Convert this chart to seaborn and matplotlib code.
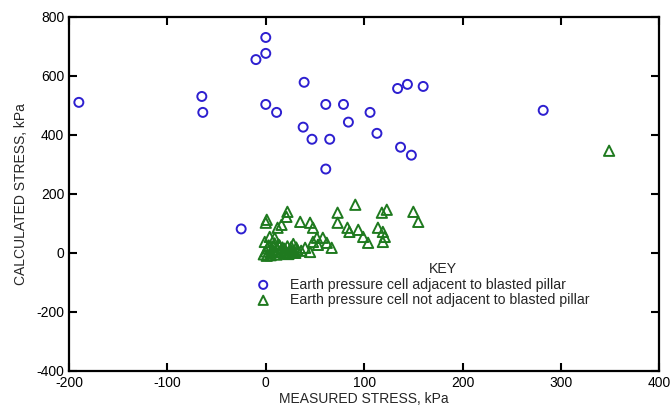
import numpy as np
import pandas as pd
import matplotlib
matplotlib.use("Agg")
import matplotlib.pyplot as plt
import seaborn as sns

# Earth pressure cell adjacent to blasted pillar (circles)
adj_measured = [-190, -65, -64, 0, 0, -10, 0, 11, 39, 38, 47, 61, 79, 65, 61,
                84, 106, 113, 134, 144, 160, 137, 148, 282, -25]
adj_calculated = [510, 530, 476, 730, 676, 655, 503, 476, 578, 426, 385, 503, 503,
                  385, 284, 443, 476, 405, 557, 571, 564, 358, 331, 483, 81]

# Earth pressure cell not adjacent to blasted pillar (triangles)
non_measured = [91, 1, 0, 22, 21, 35, 45, 48, 12, 16, 4, -1, 9, 40, 45, 52, 53, 48,
                73, 73, 83, 85, 94, 99, 104, 118, 123, 114, 119, 119, 58, 62, 67,
                150, 155, 121, 349,
                0, 2, 3, 5, 7, 8, 10, 12, 13, 15, 17, 18, 20, 22, 24, 25, 27, 28,
                30, 32, 36, -2, 5, 20, 14, 26, 9, 31, 1, 11, 19, 23, 29]
non_calculated = [163, 112, 102, 139, 122, 105, 102, 85, 85, 95, 54, 37, 51, 17, 3,
                  51, 27, 37, 136, 102, 85, 71, 78, 54, 34, 136, 146, 85, 71, 37,
                  51, 34, 17, 139, 105, 54, 346,
                  5, 15, 25, 0, 10, 20, 3, 12, 28, 5, 18, 0, 8, 22, 2, 12, 5, 30,
                  0, 10, 7, -5, -8, -3, 25, 20, 32, 18, -10, -6, 14, -4, 1]

adj = pd.DataFrame({"measured": adj_measured, "calculated": adj_calculated})
non = pd.DataFrame({"measured": non_measured, "calculated": non_calculated})

sns.set_style("ticks")
plt.rcParams["font.family"] = ["Liberation Sans", "DejaVu Sans"]
plt.rcParams["axes.unicode_minus"] = False

fig, ax = plt.subplots(figsize=(6.7, 4.2), dpi=100)
fig.subplots_adjust(left=0.103, right=0.984, bottom=0.117, top=0.96)

blue = "#2d1fd0"
green = "#1f7a1f"
sns.scatterplot(data=adj, x="measured", y="calculated", ax=ax, marker="o", s=42,
                facecolor="none", edgecolor=blue, linewidth=1.4,
                label="Earth pressure cell adjacent to blasted pillar")
sns.scatterplot(data=non, x="measured", y="calculated", ax=ax, marker="^", s=55,
                facecolor="none", edgecolor=green, linewidth=1.4,
                label="Earth pressure cell not adjacent to blasted pillar")

ax.set_xlim(-200, 400)
ax.set_ylim(-400, 800)
ax.set_xticks(np.arange(-200, 401, 100))
ax.set_yticks(np.arange(-400, 801, 200))
ax.tick_params(direction="in", length=6, width=1.5, top=True, right=True,
               labelsize=10, colors="black")
for s in ax.spines.values():
    s.set_linewidth(1.6)
    s.set_color("black")

ax.set_xlabel("MEASURED STRESS, kPa", fontsize=10, labelpad=2)
ax.set_ylabel("CALCULATED STRESS, kPa", fontsize=10, labelpad=6)

leg = ax.legend(title="KEY", frameon=False, loc="upper left",
                bbox_to_anchor=(0.305, 0.307), fontsize=10.2, title_fontsize=10.2,
                handletextpad=0.9, labelspacing=0.1, borderpad=0,
                borderaxespad=0, markerscale=0.9)
# nudge the KEY title a little to the right, as in the original
leg.get_title().set_x(24)

plt.savefig("out.png", dpi=100)
